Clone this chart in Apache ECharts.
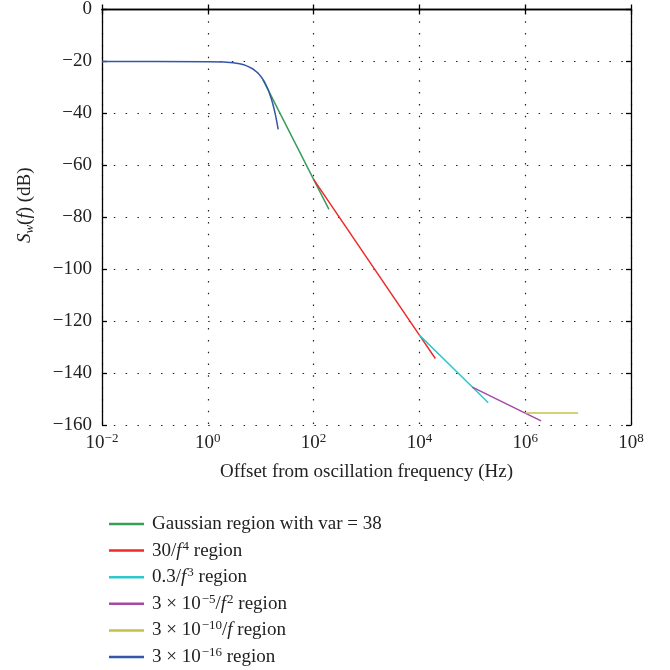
<!DOCTYPE html>
<html>
<head>
<meta charset="utf-8">
<script src="https://cdn.jsdelivr.net/npm/echarts@6/dist/echarts.min.js"></script>
<style>html,body{margin:0;padding:0;background:#fff}#c{width:670px;height:670px}</style>
</head>
<body>
<div id="c"></div>
<script>
// ---- data ----
var seriesNames = [
  'Gaussian region with var = 38',
  '30/f^4 region',
  '0.3/f^3 region',
  '3e-5/f^2 region',
  '3e-10/f region',
  '3e-16 region'
];
var legendRich = [
  'Gaussian region with var = 38',
  '30/{i|f}{sup|4} region',
  '0.3/{i|f}{sup|3} region',
  '3 × 10{sup|−5}/{i|f}{sup|2} region',
  '3 × 10{sup|−10}/{i|f} region',
  '3 × 10{sup|−16} region'
];
var seriesColors = ['#3c9c5c', '#ee2a2a', '#2ec8c8', '#a648a6', '#c4c048', '#3555aa'];

var greenFreq = [11, 100, 195];
var greenDb = [-27.0, -65.4, -77.0];
var redFreq = [100, 10000, 20000];
var redDb = [-65.4, -125.4, -134.4];
var cyanFreq = [10000, 100000, 200000];
var cyanDb = [-125.4, -145.4, -151.4];
var magentaFreq = [100000, 1000000, 2000000];
var magentaDb = [-145.4, -155.4, -158.4];
var oliveFreq = [1000000, 10000000];
var oliveDb = [-155.4, -155.4];
var blueFreq = [0.01, 0.1, 1, 2, 3, 4, 5, 6, 7, 8, 9, 10, 11, 12, 13, 14, 15, 16, 17, 18, 19, 20, 21, 21.4];
var blueDb = [-20, -20, -20.1, -20.2, -20.5, -20.9, -21.4, -22.1, -22.8, -23.7, -24.6, -25.7, -26.9, -28.2, -29.7, -31.1, -32.9, -34.6, -36.5, -38.5, -40.6, -42.9, -45.2, -46.2];

var xTickExponents = [-2, 0, 2, 4, 6, 8];
var yTicks = [0, -20, -40, -60, -80, -100, -120, -140, -160];

// ---- chart ----
function pairs(xs, ys) { return xs.map(function (x, i) { return [x, ys[i]]; }); }
var allData = [
  pairs(greenFreq, greenDb), pairs(redFreq, redDb), pairs(cyanFreq, cyanDb),
  pairs(magentaFreq, magentaDb), pairs(oliveFreq, oliveDb), pairs(blueFreq, blueDb)
];
var FONT = 'Liberation Serif';
var TXT = '#222';
var FS = 19;
function minus(s) { return String(s).replace('-', '−'); }

var chart = echarts.init(document.getElementById('c'), null, { renderer: 'canvas' });
var dotted = { color: '#222', width: 1.2, type: [1.5, 10.3] };

chart.setOption({
  animation: false,
  backgroundColor: '#fff',
  grid: { left: 102, right: 39, top: 9, bottom: 245, containLabel: false },
  legend: {
    orient: 'vertical', left: 104, top: 508, height: 200, width: 500,
    icon: 'rect', itemWidth: 35, itemHeight: 2.5, itemGap: 4.6,
    data: seriesNames,
    formatter: function (n) { return legendRich[seriesNames.indexOf(n)]; },
    textStyle: {
      fontFamily: FONT, fontSize: FS, color: TXT, lineHeight: 22, padding: [0, 0, 0, 3],
      rich: {
        i: { fontFamily: FONT, fontStyle: 'italic', fontSize: FS, color: TXT, lineHeight: 22 },
        sup: { fontFamily: FONT, fontSize: 13, color: TXT, lineHeight: 22, verticalAlign: 'top', padding: [0, 0, 0, 1] }
      }
    }
  },
  xAxis: [{
    type: 'log', logBase: 10, min: 0.01, max: 1e8, interval: 2, splitNumber: 5,
    position: 'bottom',
    name: 'Offset from oscillation frequency (Hz)', nameLocation: 'middle', nameGap: 38,
    nameTextStyle: { fontFamily: FONT, fontSize: FS, color: TXT },
    axisLine: { lineStyle: { color: '#000', width: 1.3 } },
    axisTick: { inside: true, length: 5, lineStyle: { color: '#000', width: 1.3 } },
    axisLabel: {
      margin: 7,
      formatter: function (v) {
        var e = Math.round(Math.log10(v));
        return '{b|10}{sup|' + minus(e) + '}';
      },
      rich: {
        b: { fontFamily: FONT, fontSize: FS, color: TXT, lineHeight: 22 },
        sup: { fontFamily: FONT, fontSize: 13, color: TXT, lineHeight: 22, verticalAlign: 'top' }
      }
    },
    splitLine: { show: true, lineStyle: dotted }
  }, {
    type: 'log', logBase: 10, min: 0.01, max: 1e8, interval: 2, splitNumber: 5,
    position: 'top',
    axisLine: { lineStyle: { color: '#000', width: 1.3 } },
    axisTick: { inside: true, length: 5, lineStyle: { color: '#000', width: 1.3 } },
    axisLabel: { show: false }, splitLine: { show: false }
  }],
  yAxis: [{
    type: 'value', min: -160, max: 0, interval: 20,
    name: '{i|S}{sub|w}({i|f}) (dB)', nameLocation: 'middle', nameGap: 66,
    nameTextStyle: {
      fontFamily: FONT, fontSize: FS, color: TXT, padding: [0, 0, 0, 24],
      rich: {
        i: { fontFamily: FONT, fontStyle: 'italic', fontSize: FS, color: TXT, lineHeight: 22 },
        sub: { fontFamily: FONT, fontStyle: 'italic', fontSize: 13, color: TXT, lineHeight: 22, verticalAlign: 'bottom' }
      }
    },
    axisLine: { lineStyle: { color: '#000', width: 1.3 } },
    axisTick: { inside: true, length: 5, lineStyle: { color: '#000', width: 1.3 } },
    axisLabel: {
      margin: 10, fontFamily: FONT, fontSize: FS, color: TXT,
      formatter: function (v) { return minus(v); }
    },
    splitLine: { show: true, lineStyle: dotted }
  }, {
    type: 'value', min: -160, max: 0, interval: 20, position: 'right',
    axisLine: { show: true, lineStyle: { color: '#000', width: 1.3 } },
    axisTick: { show: true, inside: true, length: 5, lineStyle: { color: '#000', width: 1.3 } },
    axisLabel: { show: false }, splitLine: { show: false }
  }],
  series: seriesNames.map(function (n, k) {
    return {
      name: n, type: 'line', data: allData[k], symbol: 'none', smooth: false,
      xAxisIndex: 0, yAxisIndex: 0,
      color: seriesColors[k],
      lineStyle: { color: seriesColors[k], width: 1.5 },
      itemStyle: { color: seriesColors[k] },
      z: k === 5 ? 3 : 2
    };
  })
});
</script>
</body>
</html>
